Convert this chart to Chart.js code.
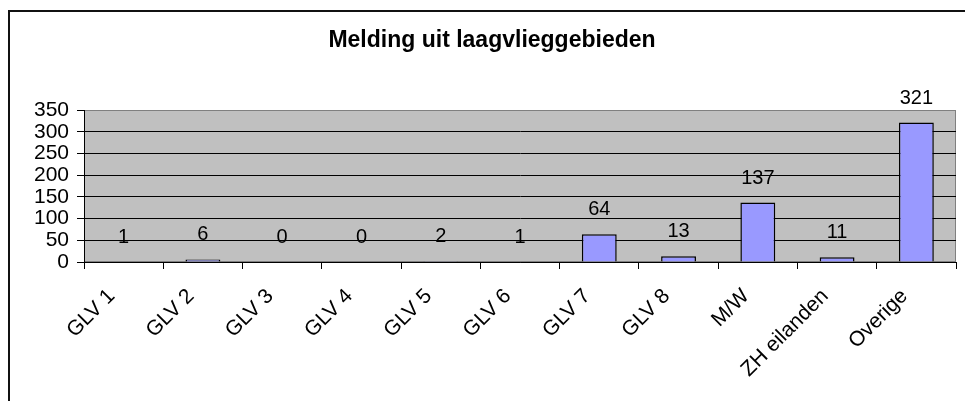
<!DOCTYPE html>
<html>
<head>
<meta charset="utf-8">
<script src="https://cdn.jsdelivr.net/npm/chart.js@4"></script>
<style>
  html, body { margin: 0; padding: 0; background: #fff; overflow: hidden; }
  .frame { position: absolute; left: 8px; top: 10px; width: 2000px; height: 2000px;
           border-left: 2px solid #111; border-top: 2px solid #111; }
  canvas { position: absolute; left: 0; top: 0; }
</style>
</head>
<body>
<div class="frame"></div>
<canvas id="chart" width="965" height="401"></canvas>
<script>
const categories = ['GLV 1', 'GLV 2', 'GLV 3', 'GLV 4', 'GLV 5', 'GLV 6', 'GLV 7', 'GLV 8', 'M/W', 'ZH eilanden', 'Overige'];
const meldingen = [1, 6, 0, 0, 2, 1, 64, 13, 137, 11, 321];
const yMax = 350;
const yStep = 50;
const title = 'Melding uit laagvlieggebieden';

const font = "'Liberation Sans', Arial, sans-serif";

// grey plot area like the old Excel chart
const plotBackground = {
    id: 'plotBackground',
    beforeDraw(chart) {
        const { ctx, chartArea: a } = chart;
        ctx.save();
        ctx.fillStyle = '#C0C0C0';
        ctx.fillRect(a.left, a.top, a.width, a.height);
        ctx.strokeStyle = '#808080';
        ctx.lineWidth = 1;
        ctx.strokeRect(a.left + 0.5, a.top + 0.5, a.width - 1, a.height - 1);
        ctx.restore();
    }
};

// value above every bar
const valueLabels = {
    id: 'valueLabels',
    afterDatasetsDraw(chart) {
        const ctx = chart.ctx;
        ctx.save();
        ctx.font = '20px ' + font;
        ctx.fillStyle = '#000';
        ctx.textAlign = 'center';
        ctx.textBaseline = 'alphabetic';
        chart.getDatasetMeta(0).data.forEach((bar, i) => {
            ctx.fillText(String(meldingen[i]), bar.x, bar.y - 19);
        });
        ctx.restore();
    }
};

// 45 degree category labels + title centred on the excel chart frame
const excelText = {
    id: 'excelText',
    afterDraw(chart) {
        const { ctx, scales: { x }, chartArea: a } = chart;
        ctx.save();
        ctx.fillStyle = '#000';
        ctx.font = 'bold 23px ' + font;
        ctx.textAlign = 'center';
        ctx.textBaseline = 'alphabetic';
        ctx.fillText(title, 492, 47);

        ctx.font = '21px ' + font;
        ctx.textAlign = 'right';
        ctx.textBaseline = 'middle';
        categories.forEach((name, i) => {
            ctx.save();
            ctx.translate(x.getPixelForTick(i) - 12, a.bottom + 31);
            ctx.rotate(-Math.PI / 4);
            ctx.fillText(name, 0, 0);
            ctx.restore();
        });
        ctx.restore();
    }
};

new Chart(document.getElementById('chart'), {
    type: 'bar',
    data: {
        labels: categories,
        datasets: [{
            label: 'Meldingen',
            data: meldingen,
            backgroundColor: '#9999FF',
            borderColor: '#000',
            borderWidth: 1.5,
            borderSkipped: 'bottom',
            barPercentage: 0.44,
            categoryPercentage: 1
        }]
    },
    options: {
        responsive: false,
        animation: false,
        layout: { padding: { left: 0, right: 9, top: 110, bottom: 0 } },
        plugins: {
            legend: { display: false },
            tooltip: { enabled: false },
            title: { display: false }
        },
        scales: {
            x: {
                offset: true,
                grid: {
                    offset: true,
                    drawOnChartArea: false,
                    color: '#000',
                    tickLength: 7
                },
                border: { color: '#000', width: 1 },
                ticks: { display: false },
                afterFit(s) { s.height = 139; }
            },
            y: {
                min: 0,
                max: yMax,
                grid: {
                    color: c => (c.tick && c.tick.value === yMax) ? '#808080' : '#000',
                    tickColor: '#000',
                    tickLength: 7
                },
                border: { color: '#000', width: 1 },
                ticks: {
                    stepSize: yStep,
                    autoSkip: false,
                    color: '#000',
                    font: { family: font, size: 21 },
                    padding: 8
                },
                afterFit(s) { s.width = 84; }
            }
        }
    },
    plugins: [plotBackground, valueLabels, excelText]
});
</script>
</body>
</html>
